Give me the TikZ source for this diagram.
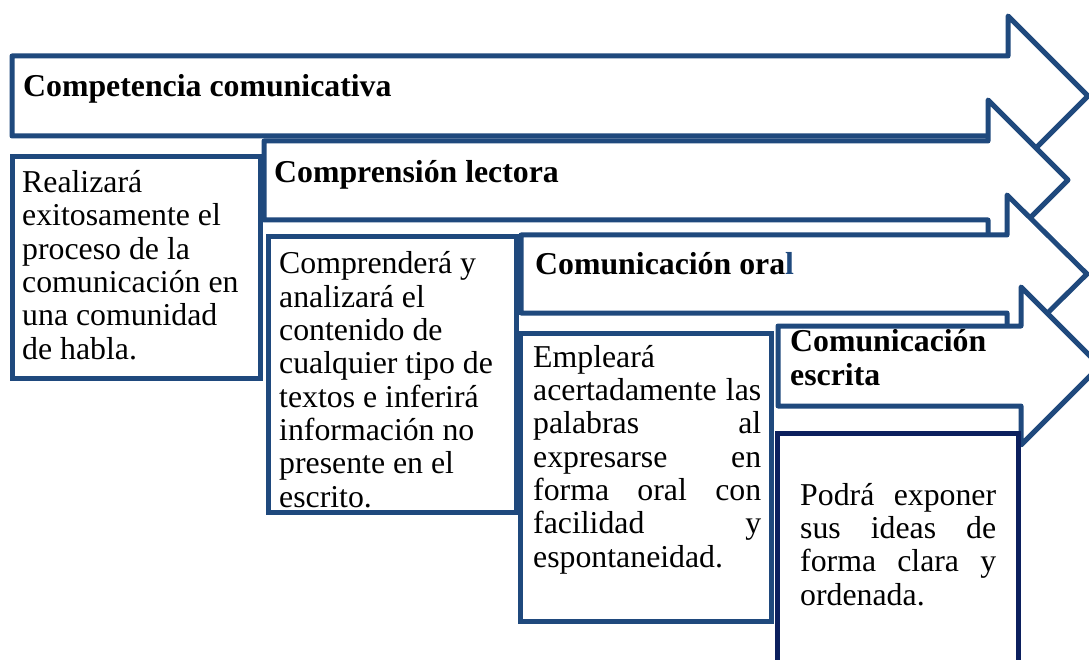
\documentclass[tikz,border=0pt]{standalone}
\usepackage{fontspec}
\setmainfont{Liberation Serif}
\usepackage{xcolor}
\usepackage{tikz}
\definecolor{arrowblue}{RGB}{31,73,125}
\definecolor{navyline}{RGB}{12,32,94}
\tikzset{
	arw/.style={draw=arrowblue, line width=5pt, fill=white, line join=round},
	txtbox/.style={shape=rectangle, draw=arrowblue, line width=5pt, fill=white, inner sep=0pt},
	txt/.style={anchor=base west, inner sep=0pt, align=left, font=\fontsize{31.8}{33.3}\selectfont},
	ttl/.style={txt, font=\fontsize{31.8}{33.3}\selectfont\bfseries}
}

\begin{document}
\begin{tikzpicture}[x=1pt, y=-1pt]
	\clip (0, 0) rectangle (1089, 660);
	\fill[white] (0, 0) rectangle (1089, 660);
	% Arrows and boxes, back to front (multi-line texts sit on their last baseline):
	\draw[arw] (12, 56) -- (1008, 56) -- (1008, 16) -- (1088, 96) -- (1008, 176) -- (1008, 136) -- (12, 136) -- cycle;
	\node[ttl](T1) at (23, 97){Competencia comunicativa};
	\node[txtbox, minimum width=248pt, minimum height=221pt](B1) at (136, 267.5){};
	\node[txt](X1) at (22, 359){Realizará\\exitosamente el\\proceso de la\\comunicación en\\una comunidad\\de habla.};
	\draw[arw] (264, 141) -- (988, 141) -- (988, 100) -- (1068, 180) -- (988, 260) -- (988, 220) -- (264, 220) -- cycle;
	\node[ttl](T2) at (274, 183){Comprensión lectora};
	\node[txtbox, minimum width=248pt, minimum height=275pt](B2) at (392, 374.5){};
	\node[txt](X2) at (279, 507){Comprenderá y\\analizará el\\contenido de\\cualquier tipo de\\textos e inferirá\\información no\\presente en el\\escrito.};
	\draw[arw] (521, 235) -- (1007, 235) -- (1007, 195) -- (1087, 274) -- (1007, 353) -- (1007, 313) -- (521, 313) -- cycle;
	\node[ttl](T3) at (535, 275){Comunicación ora\textcolor{arrowblue}{l}};
	\node[txtbox, minimum width=251pt, minimum height=288pt](B3) at (645.5, 477){};
	\node[txt](X3) at (533, 567){Empleará\\\makebox[228pt][s]{acertadamente las}\\\makebox[228pt][s]{palabras al}\\\makebox[228pt][s]{expresarse en}\\\makebox[228pt][s]{forma oral con}\\\makebox[228pt][s]{facilidad y}\\espontaneidad.};
	\draw[arw] (778, 326) -- (1021, 326) -- (1021, 287) -- (1100, 366) -- (1021, 445) -- (1021, 406) -- (778, 406) -- cycle;
	\node[ttl](T4) at (790, 385){Comunicación\\escrita};
	\node[txtbox, draw=navyline, minimum width=241pt, minimum height=260pt](B4) at (897.5, 563){};
	\node[txt](X4) at (800, 605){\makebox[196pt][s]{Podrá exponer}\\\makebox[196pt][s]{sus ideas de}\\\makebox[196pt][s]{forma clara y}\\ordenada.};
\end{tikzpicture}
\end{document}
